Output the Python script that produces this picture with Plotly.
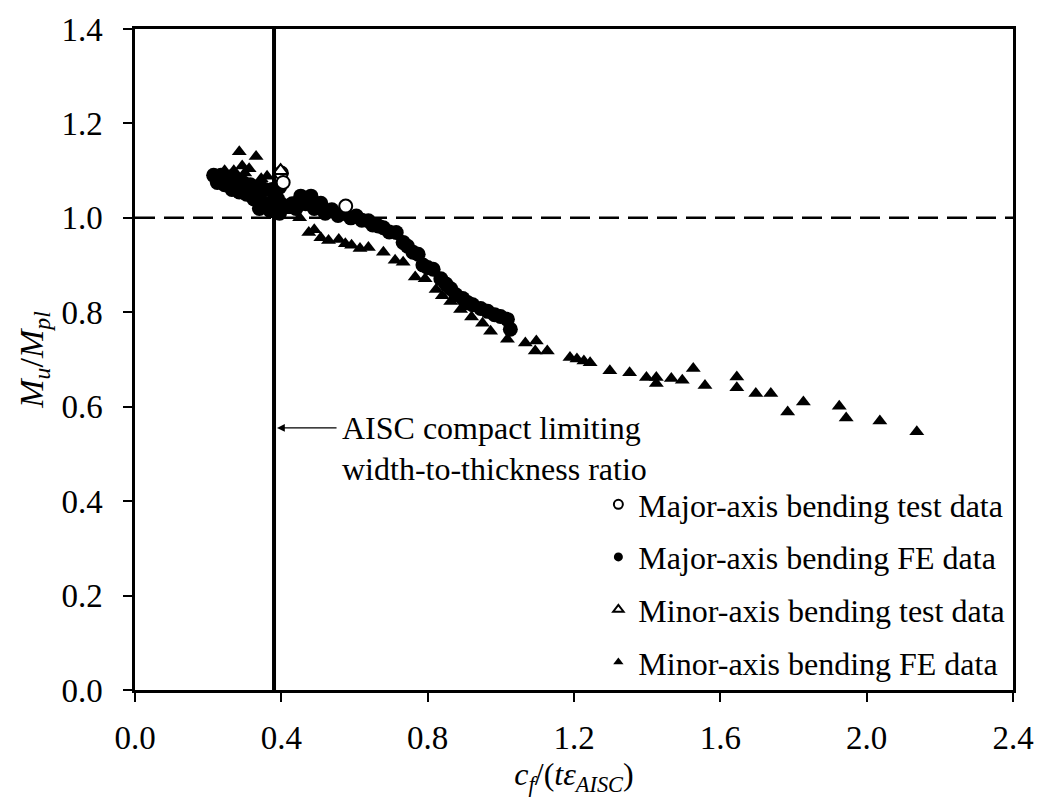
import plotly.graph_objects as go

# Major-axis bending FE data (filled circles)
maj_fe_x = [0.215, 0.235, 0.255, 0.275, 0.295, 0.315, 0.335, 0.355, 0.375, 0.395,
            0.225, 0.245, 0.265, 0.285, 0.305, 0.325, 0.345, 0.365, 0.385, 0.40, 0.39,
            0.34, 0.37, 0.395,
            0.42, 0.43, 0.44, 0.453, 0.466, 0.481, 0.49, 0.508, 0.52, 0.538, 0.555, 0.57,
            0.59, 0.605, 0.62, 0.638, 0.65, 0.665, 0.679, 0.695, 0.714, 0.733, 0.745, 0.76,
            0.774, 0.787, 0.80, 0.815, 0.836, 0.85, 0.863, 0.877, 0.896, 0.91, 0.923, 0.945,
            0.964, 0.983, 0.999, 1.018, 1.026]
maj_fe_y = [1.09, 1.09, 1.085, 1.08, 1.075, 1.07, 1.065, 1.06, 1.06, 1.065,
            1.075, 1.07, 1.06, 1.055, 1.05, 1.04, 1.035, 1.03, 1.025, 1.02, 1.04,
            1.02, 1.015, 1.01,
            1.025, 1.03, 1.02, 1.046, 1.03, 1.046, 1.02, 1.031, 1.01, 1.017, 1.005, 1.01,
            1.00, 1.004, 0.995, 0.994, 0.985, 0.983, 0.979, 0.97, 0.969, 0.948, 0.94, 0.927,
            0.923, 0.90, 0.895, 0.891, 0.871, 0.86, 0.85, 0.837, 0.829, 0.82, 0.816, 0.808,
            0.802, 0.795, 0.791, 0.785, 0.764]

# Major-axis bending test data (open circles)
maj_test_x = [0.40, 0.405, 0.576]
maj_test_y = [1.095, 1.075, 1.025]

# Minor-axis bending test data (open triangles)
min_test_x = [0.398]
min_test_y = [1.10]

# Minor-axis bending FE data (filled triangles)
min_fe_x = [0.245, 0.26, 0.27, 0.285, 0.293, 0.312, 0.331, 0.345, 0.361, 0.30, 0.35, 0.37, 0.38,
            0.39, 0.41, 0.43, 0.45,
            0.475, 0.49, 0.508, 0.529, 0.557, 0.575, 0.592, 0.615, 0.638, 0.679, 0.711, 0.733,
            0.766, 0.793, 0.823, 0.84, 0.863, 0.89, 0.92, 0.95, 0.972, 1.018, 1.067, 1.097,
            1.094, 1.127, 1.189, 1.208, 1.227, 1.244, 1.298, 1.352, 1.398, 1.425, 1.425, 1.466,
            1.496, 1.526, 1.558, 1.645, 1.645, 1.697, 1.738, 1.784, 1.827, 1.925, 1.944, 2.036,
            2.137]
min_fe_y = [1.10, 1.09, 1.10, 1.14, 1.11, 1.104, 1.13, 1.083, 1.088, 1.095, 1.07, 1.06, 1.05,
            1.045, 1.03, 1.015, 1.00,
            0.969, 0.975, 0.958, 0.952, 0.954, 0.945, 0.942, 0.935, 0.937, 0.927, 0.91, 0.906,
            0.875, 0.871, 0.848, 0.835, 0.823, 0.806, 0.79, 0.777, 0.76, 0.743, 0.735, 0.739,
            0.718, 0.718, 0.704, 0.701, 0.697, 0.693, 0.676, 0.672, 0.662, 0.662, 0.649, 0.66,
            0.656, 0.681, 0.645, 0.663, 0.64, 0.628, 0.628, 0.589, 0.61, 0.601, 0.576, 0.57,
            0.547]

aisc_limit = 0.38
ref_level = 1.0

legend_names = ["Major-axis bending test data", "Major-axis bending FE data",
                "Minor-axis bending test data", "Minor-axis bending FE data"]

FONT = "Liberation Serif"

fig = go.Figure()

fig.add_trace(go.Scatter(x=maj_fe_x, y=maj_fe_y, mode="markers", showlegend=False,
                         marker=dict(symbol="circle", size=15, color="black")))
fig.add_trace(go.Scatter(x=min_fe_x, y=min_fe_y, mode="markers", showlegend=False,
                         marker=dict(symbol="triangle-up", size=13, color="black")))
fig.add_trace(go.Scatter(x=maj_test_x, y=maj_test_y, mode="markers", showlegend=False,
                         marker=dict(symbol="circle", size=13, color="white",
                                     line=dict(color="black", width=2))))
fig.add_trace(go.Scatter(x=min_test_x, y=min_test_y, mode="markers", showlegend=False,
                         marker=dict(symbol="triangle-up", size=13, color="white",
                                     line=dict(color="black", width=2))))

# legend-only entries (small symbols as in reference)
leg_styles = [
    dict(symbol="circle-open", size=9, color="black", line=dict(width=2)),
    dict(symbol="circle", size=9, color="black"),
    dict(symbol="triangle-up-open", size=9, color="black", line=dict(width=2)),
    dict(symbol="triangle-up", size=9, color="black"),
]
for i, (nm, st) in enumerate(zip(legend_names, leg_styles)):
    fig.add_trace(go.Scatter(x=[None], y=[None], mode="markers", name=nm, marker=st,
                             legendgroup=f"g{i}"))

fig.add_shape(type="line", xref="x", yref="paper", x0=aisc_limit, x1=aisc_limit, y0=0, y1=1,
              line=dict(color="black", width=4))
fig.add_shape(type="line", xref="paper", yref="y", x0=0, x1=1, y0=ref_level, y1=ref_level,
              line=dict(color="black", width=2.5, dash="20px,9px"))

fig.add_annotation(x=aisc_limit, y=0.555, ax=0.555, ay=0.555, xref="x", yref="y", axref="x", ayref="y",
                   text="", showarrow=True, arrowhead=2, arrowsize=1.3, arrowwidth=1.2,
                   arrowcolor="black", standoff=3)
fig.add_annotation(x=0.56, y=0.555, xref="x", yref="y", xanchor="left", yanchor="middle",
                   text="AISC compact limiting", showarrow=False, align="left",
                   font=dict(family=FONT, size=32, color="black"))
fig.add_annotation(x=0.56, y=0.468, xref="x", yref="y", xanchor="left", yanchor="middle",
                   text="width-to-thickness ratio", showarrow=False, align="left",
                   font=dict(family=FONT, size=32, color="black"))

axis_common = dict(showgrid=False, zeroline=False, showline=True, linecolor="black", linewidth=2.5,
                   mirror=True, ticks="outside", ticklen=9, tickwidth=2, tickcolor="black",
                   tickfont=dict(family=FONT, size=33, color="black"))

fig.update_xaxes(range=[0, 2.4], tickvals=[0, 0.4, 0.8, 1.2, 1.6, 2.0, 2.4],
                 ticktext=["0.0", "0.4", "0.8", "1.2", "1.6", "2.0", "2.4"],
                 ticklabelstandoff=8,
                 title=dict(text="<i>c<sub>f</sub></i>/(<i>tε<sub>AISC</sub></i>)",
                            font=dict(family=FONT, size=32, color="black"), standoff=8),
                 **axis_common)
fig.update_yaxes(range=[0, 1.4], tickvals=[0, 0.2, 0.4, 0.6, 0.8, 1.0, 1.2, 1.4],
                 ticktext=["0.0", "0.2", "0.4", "0.6", "0.8", "1.0", "1.2", "1.4"],
                 ticklabelstandoff=14,
                 title=dict(text="<i>M<sub>u</sub></i>/<i>M<sub>pl</sub></i>",
                            font=dict(family=FONT, size=34, color="black"), standoff=8),
                 **axis_common)

fig.update_layout(
    width=1046, height=800,
    margin=dict(l=135, r=27, t=18, b=110),
    plot_bgcolor="white", paper_bgcolor="white",
    font=dict(family=FONT, size=32, color="black"),
    legend=dict(x=0.997, y=0.0, xanchor="right", yanchor="bottom", bgcolor="rgba(0,0,0,0)",
                tracegroupgap=8, itemwidth=30,
                font=dict(family=FONT, size=32, color="black")),
)

fig.write_html("out.html")
